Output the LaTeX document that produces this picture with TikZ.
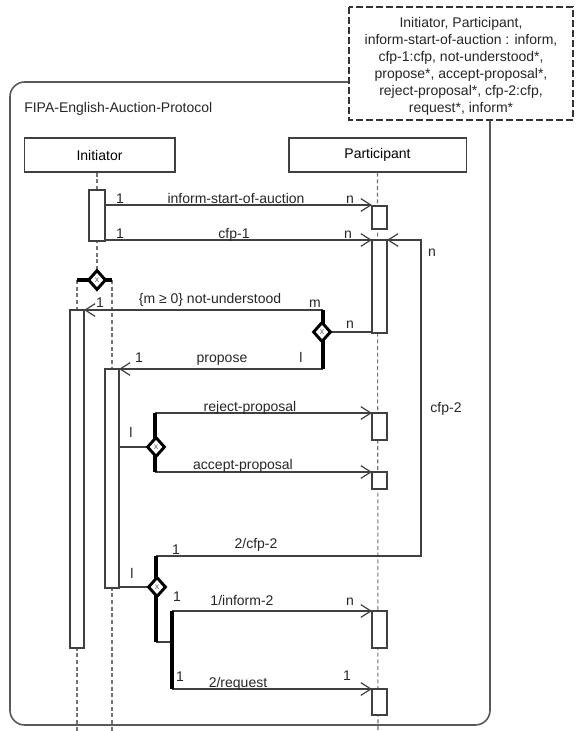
\documentclass[tikz,border=0pt]{standalone}
\usepackage{fontspec}
\setmainfont{Liberation Sans}
\usetikzlibrary{arrows.meta,shapes.geometric}

\begin{document}
\begin{tikzpicture}[x=0.75pt, y=-0.75pt,
    font=\fontsize{10.5}{12.75}\selectfont,
    thinline/.style={draw=black!75, line width=0.9pt},
    msg/.style={thinline, -{Straight Barb[length=7.5pt,width=9.5pt]}},
    act/.style={thinline, fill=white},
    role/.style={draw=black!75, line width=1pt, fill=white, minimum height=25.5pt, inner sep=0pt},
    life/.style={draw=black!55, line width=0.8pt, dash pattern=on 3pt off 2pt},
    thickbar/.style={draw=black, line width=3pt},
    xor/.style={diamond, draw=black, line width=2.2pt, fill=white, inner sep=0pt, aspect=0.9,
        minimum width=13.5pt, minimum height=15pt, font=\fontsize{6.5}{6.5}\selectfont, text=black!60},
    lbl/.style={anchor=base, inner sep=0pt, text=black!85}]

    \useasboundingbox (0,0) rectangle (575,731);

    % frame and parameter box
    \draw [draw=black!65, line width=1.2pt, rounded corners=11pt] (10,82) rectangle (490,725);
    \node (title) [lbl, anchor=base west] at (24,113) {FIPA-English-Auction-Protocol};
    \draw [draw=black!80, line width=0.9pt, dash pattern=on 5pt off 2.5pt, fill=white] (349,7) rectangle (573,120);
    \node (params) [align=center, inner sep=0pt, text=black!85] at (461,66)
        {Initiator, Participant,\\inform-start-of-auction : inform,\\cfp-1:cfp, not-understood*,\\propose*, accept-proposal*,\\reject-proposal*, cfp-2:cfp,\\request*, inform*};

    % roles
    \node (ini) [role, minimum width=113pt] at (99.5,155) {Initiator};
    \node (par) [role, minimum width=133pt] at (377.5,155) {Participant};

    % lifelines
    \coordinate (split) at (97,280);
    \coordinate (splitL) at (77,280);
    \coordinate (splitR) at (112,280);
    \coordinate (lifeL) at (77,731);
    \coordinate (lifeR) at (112,731);
    \coordinate (parBot) at (378,731);
    \draw [life] (ini.south -| split) -- (split);
    \draw [life] (splitL) -- (lifeL);
    \draw [life] (splitR) -- (lifeR);
    \draw [life] (par.south) -- (parBot);

    % inform-start-of-auction, cfp-1
    \coordinate (isaS) at (105,205);
    \coordinate (isaE) at (372,205);
    \coordinate (cfpS) at (105,240);
    \coordinate (cfpE) at (372,240);
    \draw [msg] (isaS) -- (isaE);
    \draw [msg] (cfpS) -- (cfpE);

    % not-understood, propose
    \coordinate (nuS) at (323,310);
    \coordinate (nuE) at (84,310);
    \coordinate (prS) at (323,369);
    \coordinate (prE) at (119,369);
    \coordinate (jP) at (322,332);
    \coordinate (jPE) at (372,332);
    \draw [msg] (nuS) -- (nuE);
    \draw [msg] (prS) -- (prE);
    \draw [thinline] (jP) -- (jPE);

    % reject-proposal, accept-proposal
    \coordinate (jA) at (156,447);
    \coordinate (jAS) at (119,447);
    \coordinate (rjS) at (155,413);
    \coordinate (rjE) at (372,413);
    \coordinate (acS) at (155,472);
    \coordinate (acE) at (372,472);
    \draw [thinline] (jAS) -- (jA);
    \draw [msg] (rjS) -- (rjE);
    \draw [msg] (acS) -- (acE);

    % cfp-2 loop back
    \coordinate (c2A) at (156,556);
    \coordinate (c2B) at (421,556);
    \coordinate (c2C) at (421,240);
    \coordinate (c2D) at (387,240);
    \draw [msg] (c2A) -- (c2B) -- (c2C) -- (c2D);

    % inform-2, request
    \coordinate (jB) at (157,587);
    \coordinate (jBS) at (119,587);
    \coordinate (jBD) at (156,642);
    \coordinate (jC) at (172,642);
    \coordinate (inS) at (172,611);
    \coordinate (inE) at (372,611);
    \coordinate (rqS) at (172,689);
    \coordinate (rqE) at (372,689);
    \draw [thinline] (jBS) -- (jB);
    \draw [thinline] (jBD) -- (jC);
    \draw [msg] (inS) -- (inE);
    \draw [msg] (rqS) -- (rqE);

    % activations
    \draw [act] (89,190) rectangle (105,241);
    \draw [act] (70,310) rectangle (84,648);
    \draw [act] (105,369) rectangle (119,588);
    \draw [act] (372,206) rectangle (387,229);
    \draw [act] (372,240) rectangle (387,333);
    \draw [act] (372,413) rectangle (387,440);
    \draw [act] (372,472) rectangle (387,489);
    \draw [act] (372,611) rectangle (387,648);
    \draw [act] (372,689) rectangle (387,715);

    % branch bars and xor gates
    \draw [thickbar] (splitL) -- (splitR);
    \draw [thickbar] (nuS) -- (prS);
    \draw [thickbar] (rjS) -- (acS);
    \draw [thickbar] (c2A) -- (jBD);
    \draw [thickbar] (inS) -- (rqS);
    \node (x1) [xor] at (split) {x};
    \node (x2) [xor] at (jP) {x};
    \node (x3) [xor] at (jA) {x};
    \node (x4) [xor] at (jB) {x};

    % labels
    \node (m1) [lbl] at (120,203) {1};
    \node (t1) [lbl] at (236,203) {inform-start-of-auction};
    \node (m2) [lbl] at (350,203) {n};
    \node (m3) [lbl] at (120,238) {1};
    \node (t2) [lbl] at (234,238) {cfp-1};
    \node (m4) [lbl] at (348,238) {n};
    \node (m5) [lbl] at (432,256) {n};
    \node (m6) [lbl] at (100,307) {1};
    \node (t3) [lbl] at (210,303) {\{m ≥ 0\} not-understood};
    \node (m7) [lbl] at (315,307) {m};
    \node (m8) [lbl] at (350,328) {n};
    \node (m9) [lbl] at (139,362) {1};
    \node (t4) [lbl] at (222,362) {propose};
    \node (m10) [lbl] at (301,362) {l};
    \node (m11) [lbl] at (131,437) {l};
    \node (t5) [lbl] at (250,411) {reject-proposal};
    \node (t6) [lbl] at (243,469) {accept-proposal};
    \node (t7) [lbl] at (446,412) {cfp-2};
    \node (m12) [lbl] at (176,554) {1};
    \node (t8) [lbl] at (256,548) {2/cfp-2};
    \node (m13) [lbl] at (132,578) {l};
    \node (m14) [lbl] at (177,601) {1};
    \node (t9) [lbl] at (242,605) {1/inform-2};
    \node (m15) [lbl] at (350,605) {n};
    \node (m16) [lbl] at (180,681) {1};
    \node (t10) [lbl] at (238,687) {2/request};
    \node (m17) [lbl] at (347,680) {1};
\end{tikzpicture}
\end{document}
